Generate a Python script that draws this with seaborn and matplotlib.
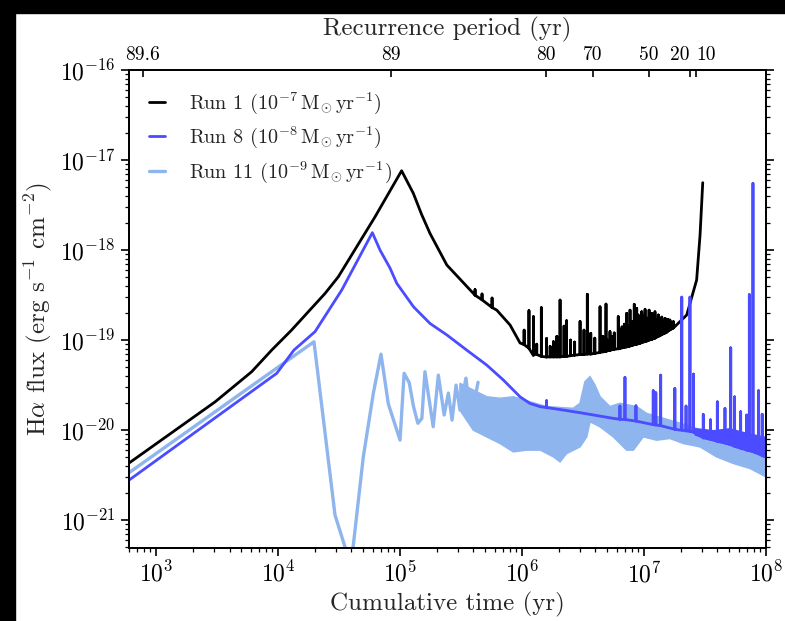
import numpy as np
import pandas as pd
import matplotlib
matplotlib.use("Agg")
import matplotlib.pyplot as plt
import seaborn as sns
from matplotlib.patches import Rectangle
from matplotlib.ticker import NullLocator

# ---------------- data ----------------
# Run 1 (black) smooth part
run1_t = [600, 3.05e3, 6.08e3, 8.87e3, 1.29e4, 2.43e4, 3.12e4, 6.24e4, 1.03e5,
          1.285e5, 1.5e5, 1.76e5, 2.42e5, 3.99e5, 6.21e5, 7.98e5, 9.64e5, 1.24e6, 1.59e6,
          2.99e6, 5.60e6, 1.05e7, 1.74e7, 2.24e7, 2.70e7, 2.88e7, 3.03e7]
run1_flux = [4.3e-21, 2.06e-20, 4.45e-20, 7.74e-20, 1.29e-19, 3.30e-19, 5.05e-19, 2.34e-18, 7.6e-18,
             4.27e-18, 2.5e-18, 1.53e-18, 6.81e-19, 3.30e-19, 2.15e-19, 1.47e-19, 9.27e-20, 6.73e-20, 6.47e-20,
             6.90e-20, 7.94e-20, 9.75e-20, 1.36e-19, 1.90e-19, 4.65e-19, 1.47e-18, 5.6e-18]
# Run 1 spikes: time, peak, foot
run1_spike_t = [4.12e5, 4.70e5, 5.68e5, 1.04e6, 1.14e6, 1.24e6, 1.32e6, 1.44e6, 1.59e6, 1.70e6,
                1.81e6, 1.93e6, 2.05e6, 2.21e6, 2.32e6, 2.5e6, 2.7e6, 2.99e6, 3.22e6, 3.43e6,
                3.66e6, 3.95e6, 4.36e6, 4.6e6, 4.88e6, 5.0e6, 5.26e6, 5.45e6, 5.7e6, 6.15e6,
                6.35e6, 6.6e6, 6.9e6, 7.21e6, 7.45e6, 7.68e6, 8.0e6, 8.32e6, 8.5e6, 8.71e6,
                8.95e6, 9.2e6, 9.4e6, 9.57e6, 9.8e6, 1.02e7, 1.04e7, 1.06e7, 1.10e7, 1.13e7,
                1.16e7, 1.2e7, 1.23e7, 1.27e7, 1.31e7, 1.35e7, 1.40e7, 1.45e7, 1.49e7, 1.53e7,
                1.56e7, 1.6e7, 1.63e7, 1.68e7, 1.74e7]
run1_spike_top = [3.63e-19, 3.25e-19, 2.93e-19, 1.29e-19, 2.12e-19, 1.82e-19, 9.0e-20, 2.29e-19, 1.04e-19, 8.5e-20,
                  9.6e-20, 1.1e-19, 2.78e-19, 1.43e-19, 1.64e-19, 1.0e-19, 9.5e-20, 1.61e-19, 1.29e-19, 3.22e-19,
                  1.19e-19, 1.05e-19, 2.34e-19, 1.1e-19, 2.51e-19, 1.0e-19, 1.24e-19, 1.1e-19, 1.2e-19, 1.82e-19,
                  1.3e-19, 1.4e-19, 1.5e-19, 1.98e-19, 1.45e-19, 2.15e-19, 1.6e-19, 2.49e-19, 1.7e-19, 2.25e-19,
                  1.9e-19, 1.7e-19, 1.6e-19, 2.06e-19, 1.85e-19, 2.19e-19, 1.6e-19, 1.75e-19, 2.15e-19, 1.7e-19,
                  1.98e-19, 1.75e-19, 2.06e-19, 1.7e-19, 1.90e-19, 1.65e-19, 1.8e-19, 1.6e-19, 1.74e-19, 1.65e-19,
                  1.7e-19, 1.6e-19, 1.67e-19, 1.58e-19, 1.60e-19]
run1_spike_foot = [3.15e-19, 2.8e-19, 2.3e-19, 8.9e-20, 8.1e-20, 7.1e-20, 6.9e-20, 6.6e-20, 6.5e-20, 6.5e-20,
                   6.5e-20, 6.5e-20, 6.5e-20, 6.6e-20, 6.6e-20, 6.7e-20, 6.8e-20, 6.9e-20, 6.9e-20, 7.0e-20,
                   7.0e-20, 7.1e-20, 7.3e-20, 7.4e-20, 7.5e-20, 7.6e-20, 7.7e-20, 7.8e-20, 7.9e-20, 8.0e-20,
                   8.1e-20, 8.2e-20, 8.3e-20, 8.4e-20, 8.5e-20, 8.6e-20, 8.7e-20, 8.9e-20, 8.9e-20, 9.0e-20,
                   9.1e-20, 9.2e-20, 9.3e-20, 9.4e-20, 9.5e-20, 9.6e-20, 9.7e-20, 9.8e-20, 1.0e-19, 1.01e-19,
                   1.02e-19, 1.04e-19, 1.05e-19, 1.08e-19, 1.1e-19, 1.12e-19, 1.15e-19, 1.18e-19, 1.2e-19, 1.22e-19,
                   1.25e-19, 1.28e-19, 1.3e-19, 1.33e-19, 1.36e-19]

# Run 8 (blue)
run8_t = [600, 9.75e3, 1.35e4, 2.01e4, 3.33e4, 5.93e4, 6.85e4, 8.28e4, 9.4e4, 1.29e5, 1.76e5,
          2.42e5, 3.52e5, 5.14e5, 7.03e5, 9.64e5, 1.16e6, 1.41e6, 2.18e6, 2.99e6, 5.60e6,
          1.05e7, 1.97e7, 3.70e7, 6.95e7, 1.0e8]
run8_flux = [2.78e-21, 4.27e-20, 7.74e-20, 1.24e-19, 3.60e-19, 1.56e-18, 1.0e-18, 6.3e-19, 4.27e-19, 2.34e-19, 1.53e-19,
             1.14e-19, 7.74e-20, 5.27e-20, 3.60e-20, 2.34e-20, 1.98e-20, 1.82e-20, 1.67e-20, 1.56e-20, 1.35e-20,
             1.19e-20, 1.0e-20, 7.74e-21, 6.0e-21, 5.0e-21]
run8_spike_t = [1.59e6, 6.35e6, 6.98e6, 8.59e6, 1.19e7, 1.25e7, 1.37e7, 1.79e7, 2.04e7, 2.21e7, 2.38e7, 2.54e7,
                3.06e7, 3.5e7, 3.99e7, 4.61e7, 5.14e7, 5.53e7, 6.2e7, 6.95e7, 7.30e7, 7.82e7, 8.69e7, 9.3e7]
run8_spike_top = [2.12e-20, 1.85e-20, 3.85e-20, 1.86e-20, 2.74e-20, 2.6e-20, 4.08e-20, 2.90e-20, 3.0e-19, 1.85e-20, 3.0e-19, 4.19e-20,
                  1.49e-20, 1.3e-20, 2.06e-20, 1.74e-20, 8.2e-20, 2.34e-20, 1.6e-20, 1.47e-20, 3.2e-19, 5.5e-18, 2.74e-20, 1.5e-20]
run8_spike_foot = [1.78e-20, 1.32e-20, 1.31e-20, 1.26e-20, 1.15e-20, 1.14e-20, 1.12e-20, 1.02e-20, 1.0e-20, 9.8e-21, 9.7e-21, 9.5e-21,
                   8.2e-21, 7.9e-21, 7.5e-21, 7.2e-21, 6.9e-21, 6.6e-21, 6.3e-21, 6.0e-21, 5.9e-21, 5.8e-21, 5.5e-21, 5.2e-21]
# Run 8 dense noisy strip at late times (lower = baseline, upper = envelope)
run8_band_t = [2.6e7, 3.7e7, 5.0e7, 7.0e7, 1.0e8]
run8_band_lo = [8.9e-21, 7.74e-21, 6.9e-21, 6.0e-21, 5.0e-21]
run8_band_hi = [1.05e-20, 1.0e-20, 1.05e-20, 9.3e-21, 8.4e-21]

# Run 11 (light blue) line part
run11_t = [600, 1.21e4, 1.97e4, 2.93e4, 3.96e4, 5.0e4, 6.04e4, 6.98e4, 8.02e4, 1.0e5, 1.08e5,
           1.19e5, 1.29e5, 1.40e5, 1.51e5, 1.60e5, 1.87e5, 2.06e5, 2.30e5, 2.49e5, 2.67e5,
           2.88e5, 3.10e5, 3.47e5, 3.8e5, 4.36e5]
run11_flux = [3.36e-21, 6.0e-20, 9.57e-20, 1.14e-21, 3.1e-22, 5.05e-21, 2.56e-20, 6.98e-20, 1.95e-20, 7.74e-21, 4.27e-20,
              3.36e-20, 1.82e-20, 1.19e-20, 1.35e-20, 4.45e-20, 1.09e-20, 4.08e-20, 1.47e-20, 2.58e-20, 1.29e-20,
              3.16e-20, 1.67e-20, 3.78e-20, 1.3e-20, 3.4e-20]
# Run 11 dense oscillating band (envelopes)
run11_band_t_hi = [3.10e5, 3.99e5, 5.14e5, 6.61e5, 8.49e5, 1.16e6, 1.59e6, 2.63e6, 2.99e6, 3.28e6, 3.61e6,
                   3.96e6, 4.36e6, 5.26e6, 6.35e6, 8.71e6, 1.05e7, 1.44e7, 1.97e7, 2.70e7, 3.70e7,
                   5.07e7, 6.95e7, 1.0e8]
run11_band_hi = [3.30e-20, 2.78e-20, 2.34e-20, 2.25e-20, 2.34e-20, 2.06e-20, 1.82e-20, 1.74e-20, 1.98e-20, 3.44e-20, 3.91e-20,
                 3.16e-20, 2.34e-20, 1.82e-20, 1.98e-20, 1.82e-20, 1.53e-20, 1.35e-20, 1.19e-20, 1.04e-20, 9.57e-21,
                 8.43e-21, 6.81e-21, 5.05e-21]
run11_band_t_lo = [3.10e5, 3.99e5, 5.14e5, 6.61e5, 8.49e5, 1.09e6, 1.41e6, 1.81e6, 2.05e6, 2.32e6, 2.99e6,
                   3.39e6, 3.61e6, 4.36e6, 5.60e6, 7.21e6, 8.17e6, 9.86e6, 1.27e7, 1.63e7, 2.10e7,
                   2.88e7, 3.94e7, 5.40e7, 7.40e7, 1.0e8]
run11_band_lo = [1.67e-20, 1.0e-20, 8.43e-21, 7.11e-21, 5.74e-21, 6.0e-21, 6.0e-21, 5.05e-21, 4.45e-21, 5.5e-21, 6.52e-21,
                 8.43e-21, 1.24e-20, 1.09e-20, 8.43e-21, 6.0e-21, 6.0e-21, 8.43e-21, 7.74e-21, 8.09e-21, 7.11e-21,
                 6.52e-21, 5.05e-21, 4.27e-21, 3.75e-21, 3.03e-21]

# Top axis: recurrence period labels at cumulative times
recur_t = [782, 8.49e4, 1.56e6, 3.81e6, 1.10e7, 2.38e7, 2.67e7]
recur_labels = ['89.6', '89', '80', '70', '50', '20', '10']

labels = [r'Run 1 ($10^{-7}\,\mathrm{M}_{\odot}\,\mathrm{yr}^{-1}$)',
          r'Run 8 ($10^{-8}\,\mathrm{M}_{\odot}\,\mathrm{yr}^{-1}$)',
          r'Run 11 ($10^{-9}\,\mathrm{M}_{\odot}\,\mathrm{yr}^{-1}$)']
c_black, c_blue, c_light = '#000000', '#4b4bff', '#8fb5ee'

# ---------------- style ----------------
sns.set_theme(style='ticks')
plt.rcParams.update({
    'font.family': 'serif',
    'font.serif': ['cmr10', 'DejaVu Serif'],
    'mathtext.fontset': 'cm',
    'axes.unicode_minus': False,
    'axes.formatter.use_mathtext': True,
    'axes.edgecolor': 'black',
    'axes.linewidth': 1.3,
    'xtick.color': 'black', 'ytick.color': 'black',
})


def assemble(t, f, st=None, sp=None, sf=None):
    tt, ff = list(t), list(f)
    if st is not None:
        for a, b, c in zip(st, sp, sf):
            tt += [a, a, a]
            ff += [c, b, c]
    order = np.argsort(np.array(tt), kind='stable')
    return pd.DataFrame({'t': np.array(tt)[order], 'flux': np.array(ff)[order]})


df1 = assemble(run1_t, run1_flux, run1_spike_t, run1_spike_top, run1_spike_foot)
df8 = assemble(run8_t, run8_flux, run8_spike_t, run8_spike_top, run8_spike_foot)
df11 = assemble(run11_t, run11_flux)

fig = plt.figure(figsize=(7.85, 6.21), dpi=100)
ax = fig.add_axes([129 / 785, 1 - 548 / 621, (766 - 129) / 785, (548 - 70) / 621])

# light blue band + line (bottom)
ax.fill(np.concatenate([run11_band_t_hi, run11_band_t_lo[::-1]]),
        np.concatenate([run11_band_hi, run11_band_lo[::-1]]), color=c_light, lw=1.2, ec=c_light, zorder=1)
sns.lineplot(data=df11, x='t', y='flux', sort=False, estimator=None, color=c_light, lw=2.4,
             ax=ax, label=labels[2], zorder=2)
sns.lineplot(data=df1, x='t', y='flux', sort=False, estimator=None, color=c_black, lw=2.0,
             ax=ax, label=labels[0], zorder=3)
ax.fill_between(run8_band_t, run8_band_lo, run8_band_hi, color=c_blue, lw=0.8, ec=c_blue, zorder=4)
sns.lineplot(data=df8, x='t', y='flux', sort=False, estimator=None, color=c_blue, lw=2.0,
             ax=ax, label=labels[1], zorder=4)

ax.set_xscale('log')
ax.set_yscale('log')
ax.set_xlim(600, 1e8)
ax.set_ylim(4.9e-22, 1e-16)
ax.set_xlabel('Cumulative time (yr)', fontsize=18)
ax.set_ylabel(r'H$\alpha$ flux (erg s$^{-1}$ cm$^{-2}$)', fontsize=18)
ax.tick_params(axis='both', which='major', labelsize=17, length=6, width=1.2, direction='out')
ax.tick_params(axis='both', which='minor', length=3, width=0.9, direction='out')
ax.tick_params(axis='y', which='both', right=True)
for s in ax.spines.values():
    s.set_visible(True)
    s.set_color('black')

h, l = ax.get_legend_handles_labels()
order = [l.index(x) for x in labels]
leg = ax.legend([h[i] for i in order], [l[i] for i in order], loc='upper left', frameon=False,
                fontsize=14.5, handlelength=0.8, handletextpad=1.2, labelspacing=0.45,
                borderaxespad=0.6)

ax2 = ax.twiny()
ax2.set_xscale('log')
ax2.set_xlim(ax.get_xlim())
ax2.set_xticks(recur_t)
ax2.set_xticklabels(recur_labels)
ax2.xaxis.set_minor_locator(NullLocator())
ax2.tick_params(axis='x', which='major', direction='in', length=5, width=1.2, labelsize=14, pad=4)
tl = ax2.get_xticklabels()
tl[5].set_horizontalalignment('right')
tl[6].set_horizontalalignment('left')
ax2.set_xlabel('Recurrence period (yr)', fontsize=18, labelpad=8)

fig.patches.append(Rectangle((0, 1 - 13 / 621), 1, 13 / 621, transform=fig.transFigure,
                             color='black', zorder=10))
fig.patches.append(Rectangle((0, 0), 15 / 785, 1, transform=fig.transFigure,
                             color='black', zorder=10))

fig.savefig('out.png', dpi=100, facecolor='white')
